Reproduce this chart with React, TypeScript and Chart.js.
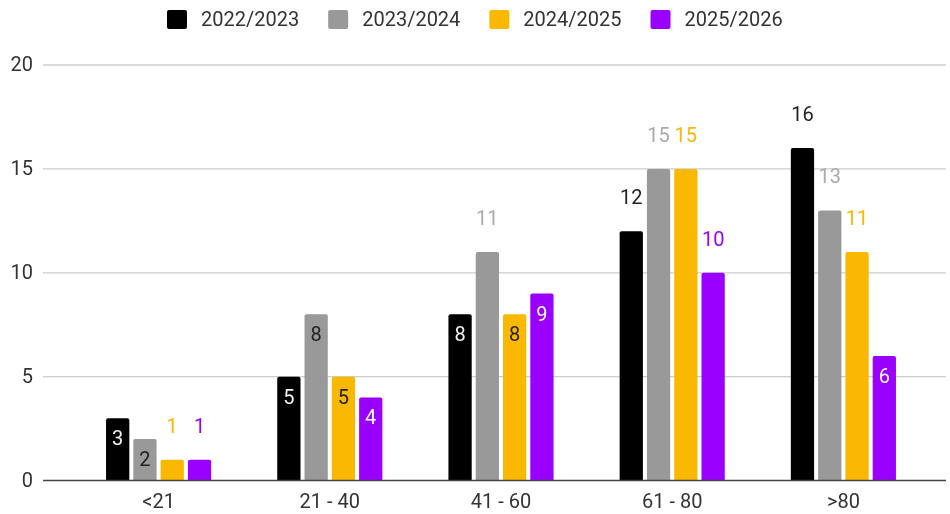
import React, { useEffect, useRef } from "react";
import { Chart, registerables } from "chart.js";

Chart.register(...registerables);

const categories = ["<21", "21 - 40", "41 - 60", "61 - 80", ">80"];
const seriesNames = ["2022/2023", "2023/2024", "2024/2025", "2025/2026"];
const values2022 = [3, 5, 8, 12, 16];
const values2023 = [2, 8, 11, 15, 13];
const values2024 = [1, 5, 8, 15, 11];
const values2025 = [1, 4, 9, 10, 6];
const yTicks = [0, 5, 10, 15, 20];

const barColors = ["#000000", "#999999", "#fbb800", "#9900ff"];
const insideLabelColors = ["#f2f2f2", "#222222", "#222222", "#ffffff"];
const aboveLabelColors = ["#222222", "#aaaaaa", "#fbb800", "#9900ff"];

const FONT = "Roboto, 'Noto Sans', sans-serif";

export default function App() {
  const ref = useRef<HTMLCanvasElement>(null);

  useEffect(() => {
    const canvas = ref.current;
    if (!canvas) return;
    const allSeries = [values2022, values2023, values2024, values2025];

    const drawPlugin = {
      id: "customDraw",
      beforeDatasetsDraw(chart: any) {
        const { ctx, scales } = chart;
        const y = scales.y;
        const x = scales.x;
        ctx.save();
        ctx.strokeStyle = "#cccccc";
        ctx.lineWidth = 1.3;
        yTicks.forEach((t) => {
          if (t === 0) return;
          const py = y.getPixelForValue(t);
          ctx.beginPath();
          ctx.moveTo(43, py);
          ctx.lineTo(946, py);
          ctx.stroke();
        });
        // y tick labels
        ctx.font = `20px ${FONT}`;
        ctx.fillStyle = "#333333";
        ctx.textAlign = "right";
        ctx.textBaseline = "middle";
        yTicks.forEach((t) => {
          ctx.fillText(String(t), 33, y.getPixelForValue(t) + 1);
        });
        // x tick labels
        ctx.textAlign = "center";
        categories.forEach((c, i) => {
          ctx.fillText(c, x.getPixelForValue(i), 503);
        });
        ctx.restore();
      },
      afterDatasetsDraw(chart: any) {
        const { ctx, scales } = chart;
        const y = scales.y;
        ctx.save();
        // zero line
        ctx.strokeStyle = "#444444";
        ctx.lineWidth = 1.5;
        const py0 = y.getPixelForValue(0);
        ctx.beginPath();
        ctx.moveTo(43, py0);
        ctx.lineTo(946, py0);
        ctx.stroke();
        // value labels
        ctx.font = `20px ${FONT}`;
        ctx.textAlign = "center";
        ctx.textBaseline = "middle";
        chart.data.datasets.forEach((ds: any, di: number) => {
          const meta = chart.getDatasetMeta(di);
          meta.data.forEach((bar: any, i: number) => {
            const v = ds.data[i];
            const inside = v >= 2 && v <= 9;
            ctx.fillStyle = inside ? insideLabelColors[di] : aboveLabelColors[di];
            const ty = inside ? bar.y + 22 : bar.y - 32;
            ctx.fillText(String(v), bar.x, ty);
          });
        });
        // legend
        ctx.textAlign = "left";
        let lx = 167;
        const ly = 19.5;
        seriesNames.forEach((name, i) => {
          ctx.fillStyle = barColors[i];
          ctx.beginPath();
          (ctx as any).roundRect(lx, ly - 9.5, 20, 19, 2);
          ctx.fill();
          ctx.fillStyle = "#333333";
          ctx.fillText(name, lx + 34, ly + 1);
          lx += 34 + ctx.measureText(name).width + 29;
        });
        ctx.restore();
      },
    };

    const chart = new Chart(canvas, {
      type: "bar",
      data: {
        labels: categories,
        datasets: allSeries.map((d, i) => ({
          label: seriesNames[i],
          data: d,
          backgroundColor: barColors[i],
          borderRadius: 2,
          borderSkipped: "start",
          categoryPercentage: 0.6375,
          barPercentage: 0.853,
        })),
      },
      options: {
        responsive: false,
        animation: false,
        layout: { padding: { top: 65, left: 73, right: 21, bottom: 33.4 } },
        plugins: {
          legend: { display: false },
          tooltip: { enabled: false },
        },
        scales: {
          x: { display: false },
          y: { display: false, min: 0, max: 20 },
        },
      },
      plugins: [drawPlugin],
    });
    return () => chart.destroy();
  }, []);

  return (
    <div style={{ position: "fixed", left: 0, top: 0, width: 950, height: 514, background: "#fff" }}>
      <canvas ref={ref} width={950} height={514} style={{ display: "block" }} />
    </div>
  );
}
